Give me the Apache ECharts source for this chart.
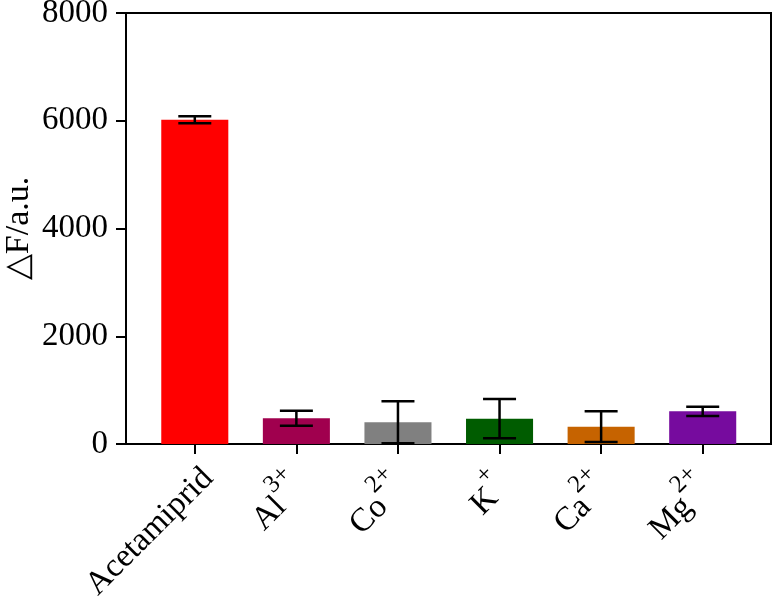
<!DOCTYPE html>
<html>
<head>
<meta charset="utf-8">
<script src="https://cdn.jsdelivr.net/npm/echarts@6/dist/echarts.min.js"></script>
<style>html,body{margin:0;padding:0;background:#fff}#c{width:774px;height:601px}</style>
</head>
<body>
<div id="c"></div>
<script>
const categories = ['Acetamiprid', 'Al', 'Co', 'K', 'Ca', 'Mg'];
const charges = ['', '3+', '2+', '+', '2+', '2+'];
const means = [6020, 477, 403, 470, 321, 607];
const errors = [65, 140, 390, 365, 285, 85];
const colors = ['#FF0000', '#A0004E', '#808080', '#005C00', '#C66300', '#760B9E'];
const yTicks = [0, 2000, 4000, 6000, 8000];

const FONT = '"Liberation Serif", "Times New Roman", serif';
const chart = echarts.init(document.getElementById('c'));

const errData = means.map((m, i) => [i, m - errors[i], m + errors[i]]);

chart.setOption({
  animation: false,
  grid: [
    {left: 126, right: 3, top: 13, bottom: 157, outerBoundsMode: 'none', show: true, borderColor: '#000', borderWidth: 2, backgroundColor: 'transparent'},
    {left: 144, right: 20.5, top: 13, bottom: 157, outerBoundsMode: 'none'}
  ],
  xAxis: [
    {gridIndex: 0, type: 'category', data: [''], axisLine: {show: false}, axisTick: {show: false}, axisLabel: {show: false}},
    {gridIndex: 1, type: 'category', data: categories,
     axisLine: {show: false},
     axisTick: {show: true, alignWithLabel: true, length: 10, lineStyle: {color: '#000', width: 2}},
     axisLabel: {
       rotate: 45, margin: 16, color: '#000', fontFamily: FONT, fontSize: 33,
       verticalAlign: 'middle', padding: [38, 0, 0, 0],
       formatter: function (v, i) { return charges[i] ? '{b|' + v + '}{s|' + charges[i] + '}' : '{b|' + v + '}'; },
       rich: {
         b: {fontFamily: FONT, fontSize: 33, color: '#000', lineHeight: 62},
         s: {fontFamily: FONT, fontSize: 25, color: '#000', lineHeight: 24, verticalAlign: 'top', padding: [0, 14, 0, 0]}
       }
     }}
  ],
  yAxis: [
    {gridIndex: 0, type: 'value', min: 0, max: 8000, interval: 2000,
     splitLine: {show: false},
     axisLine: {show: true, lineStyle: {color: '#000', width: 2}},
     axisTick: {show: true, length: 10, lineStyle: {color: '#000', width: 2}},
     axisLabel: {color: '#000', fontFamily: FONT, fontSize: 33, margin: 18,
       formatter: function (v) { return yTicks.indexOf(v) >= 0 ? String(v) : ''; }},
     name: '△F/a.u.', nameLocation: 'middle', nameGap: 90, nameRotate: 90, nameMoveOverlap: false,
     nameTextStyle: {color: '#000', fontFamily: FONT, fontSize: 34}
    },
    {gridIndex: 1, type: 'value', min: 0, max: 8000, interval: 2000, show: false, splitLine: {show: false}}
  ],
  series: [
    {type: 'bar', xAxisIndex: 1, yAxisIndex: 1, barWidth: '66%',
     data: means.map((m, i) => ({value: m, itemStyle: {color: colors[i]}}))},
    {type: 'custom', xAxisIndex: 1, yAxisIndex: 1, data: errData, z: 5,
     renderItem: function (params, api) {
       const x = api.value(0);
       const lo = api.coord([x, api.value(1)]);
       const hi = api.coord([x, api.value(2)]);
       const hw = 16.5;
       const st = {stroke: '#000', lineWidth: 2.5};
       return {type: 'group', children: [
         {type: 'line', shape: {x1: hi[0], y1: hi[1], x2: lo[0], y2: lo[1]}, style: st},
         {type: 'line', shape: {x1: hi[0] - hw, y1: hi[1], x2: hi[0] + hw, y2: hi[1]}, style: st},
         {type: 'line', shape: {x1: lo[0] - hw, y1: lo[1], x2: lo[0] + hw, y2: lo[1]}, style: st}
       ]};
     }}
  ]
});
</script>
</body>
</html>
